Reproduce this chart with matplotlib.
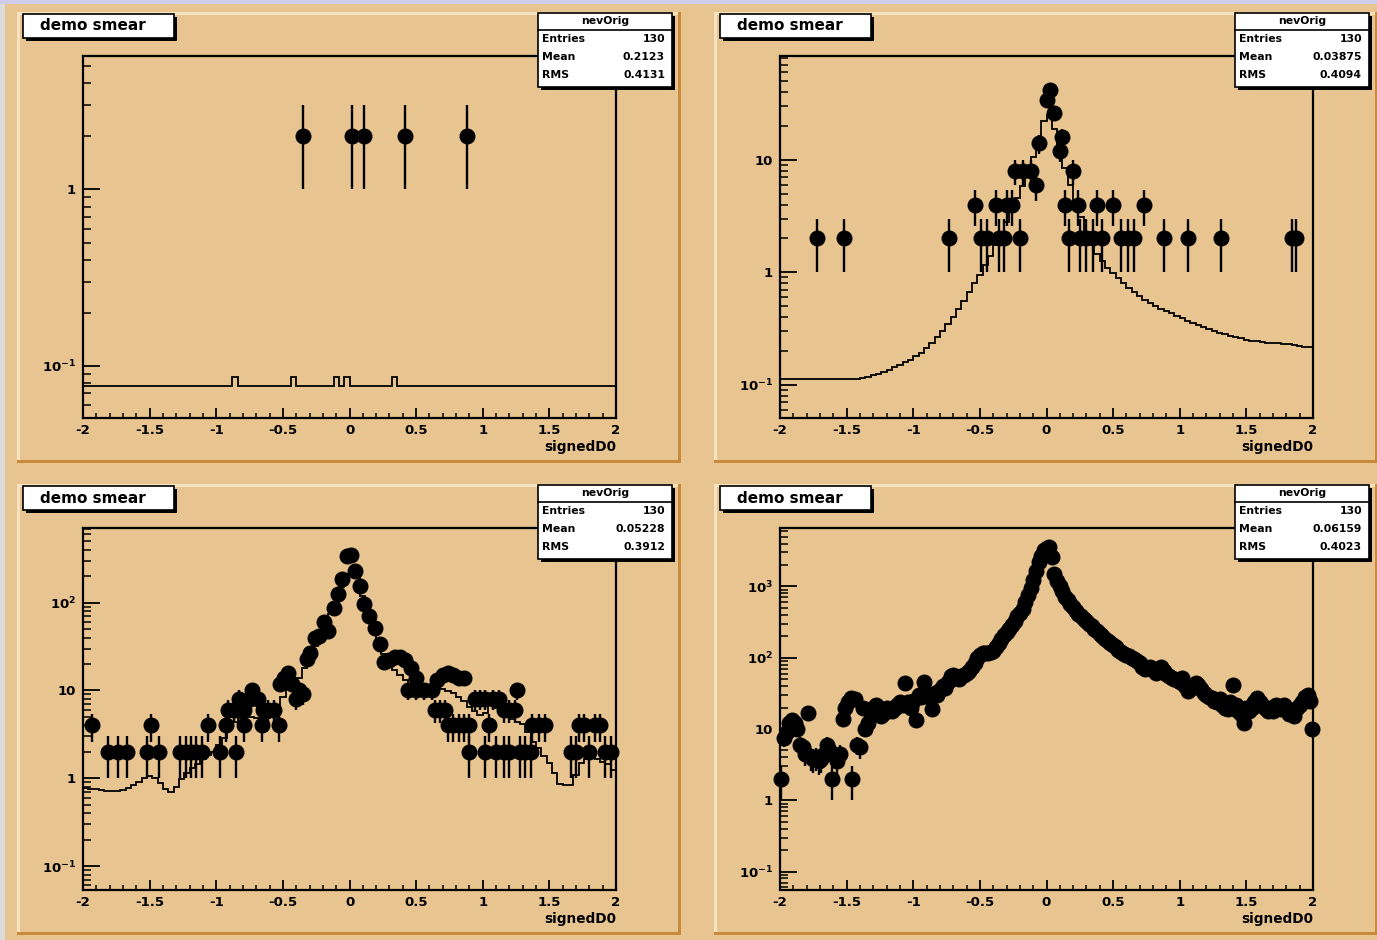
import numpy as np
import matplotlib
matplotlib.use('Agg')
import matplotlib.pyplot as plt
from matplotlib.patches import Rectangle
from matplotlib.ticker import FixedLocator, FixedFormatter, MultipleLocator, LogLocator, NullFormatter

plt.rcParams['font.family'] = ['DejaVu Sans']
plt.rcParams['font.weight'] = 'bold'
plt.rcParams['mathtext.fontset'] = 'dejavusans'
plt.rcParams['mathtext.default'] = 'bf'

titles = ['demo smear'] * 4
stat_name = 'nevOrig'
entries = [130, 130, 130, 130]
means = ['0.2123', '0.03875', '0.05228', '0.06159']
rmss = ['0.4131', '0.4094', '0.3912', '0.4023']
ylims = [(0.051, 5.7), (0.051, 84), (0.054, 710), (0.056, 6600)]

# pad 1 (top left)
p1_x = [-0.35, 0.02, 0.11, 0.42, 0.88]
p1_y = [2, 2, 2, 2, 2]
p1_line = [0.077] * 100
for k in [28, 39, 47, 49, 58]:
    p1_line[k] = 0.086

# pad 2 (top right)
p2_x = [-1.72, -1.52, -0.73, -0.54, -0.49, -0.45, -0.38, -0.36, -0.32, -0.30, -0.26,
        -0.24, -0.20, -0.18, -0.12, -0.08, -0.06, 0.00, 0.03, 0.06, 0.10, 0.12, 0.14,
        0.17, 0.20, 0.24, 0.25, 0.30, 0.35, 0.38, 0.42, 0.50, 0.56, 0.61, 0.66, 0.73,
        0.88, 1.06, 1.31, 1.84, 1.87]
p2_y = [2, 2, 2, 4, 2, 2, 4, 2, 2, 4, 4,
        8, 2, 8, 8, 6, 14, 34, 42, 26, 12, 16, 4,
        2, 8, 4, 2, 2, 2, 4, 2, 4, 2, 2, 2, 4,
        2, 2, 2, 2, 2]
p2_line = [0.112, 0.112, 0.112, 0.112, 0.112, 0.112, 0.112, 0.112, 0.112, 0.112,
           0.112, 0.112, 0.112, 0.112, 0.113, 0.115, 0.118, 0.121, 0.125, 0.130,
           0.136, 0.143, 0.150, 0.158, 0.167, 0.178, 0.192, 0.21, 0.235, 0.265,
           0.30, 0.345, 0.40, 0.47, 0.56, 0.67, 0.80, 0.95, 1.15, 1.4,
           1.75, 2.2, 2.8, 3.6, 4.6, 5.8, 7.5, 10.5, 15, 22,
           25, 19, 12, 8.5, 6, 4.3, 3.1, 2.3, 1.8, 1.45,
           1.25, 1.1, 0.98, 0.88, 0.80, 0.73, 0.67, 0.62, 0.57, 0.53,
           0.50, 0.47, 0.45, 0.43, 0.41, 0.39, 0.37, 0.355, 0.34, 0.325,
           0.31, 0.30, 0.29, 0.28, 0.272, 0.265, 0.258, 0.252, 0.247, 0.243,
           0.24, 0.237, 0.235, 0.233, 0.23, 0.228, 0.225, 0.222, 0.218, 0.215]

# pad 3 (bottom left)
p3_x = [-1.93, -1.81, -1.74, -1.67, -1.52, -1.49, -1.43, -1.27, -1.23, -1.19, -1.15,
        -1.11, -1.06, -0.97, -0.93, -0.91, -0.87, -0.85, -0.83, -0.79, -0.79, -0.75,
        -0.73, -0.69, -0.66, -0.65, -0.61, -0.57, -0.53, -0.52, -0.49, -0.46, -0.43,
        -0.40, -0.38, -0.35, -0.32, -0.30, -0.26, -0.23, -0.19, -0.16, -0.12, -0.09,
        -0.06, -0.02, 0.01, 0.04, 0.08, 0.11, 0.15, 0.19, 0.23, 0.26, 0.30, 0.34,
        0.38, 0.42, 0.46, 0.50, 0.44, 0.50, 0.56, 0.62, 0.64, 0.68, 0.72, 0.66,
        0.70, 0.74, 0.78, 0.82, 0.86, 0.74, 0.78, 0.82, 0.86, 0.90, 1.05, 1.37,
        1.42, 1.47, 1.72, 1.76, 1.84, 1.88, 0.94, 0.98, 1.02, 1.08, 1.12, 1.16,
        1.20, 1.24, 1.26, 0.90, 1.02, 1.10, 1.16, 1.20, 1.28, 1.32, 1.36, 1.66,
        1.70, 1.80, 1.92, 1.96]
p3_y = [4, 2, 2, 2, 2, 4, 2, 2, 2, 2, 2,
        2, 4, 2, 4, 6, 6, 2, 8, 6, 4, 8,
        10, 8, 4, 6, 6, 6, 4, 12, 14, 16, 12,
        8, 10, 9, 23, 27, 40, 42, 60, 48, 88, 126,
        187, 345, 350, 230, 156, 96, 71, 51, 34, 21, 22, 24,
        24, 22, 18, 14, 10, 10, 10, 10, 6, 6, 6, 13,
        15, 16, 15, 14, 14, 4, 4, 4, 4, 4, 4, 4,
        4, 4, 4, 4, 4, 4, 8, 8, 8, 8, 8, 6,
        6, 6, 10, 2, 2, 2, 2, 2, 2, 2, 2, 2,
        2, 2, 2, 2]
p3_line = [0.78, 0.76, 0.75, 0.73, 0.72, 0.71, 0.72, 0.74, 0.77, 0.83,
           0.90, 1.0, 1.07, 1.0, 0.88, 0.76, 0.70, 0.80, 0.97, 1.15,
           1.3, 1.45, 1.65, 1.85, 2.0, 2.4, 2.9, 3.6, 4.4, 4.8,
           5.0, 5.0, 4.9, 4.9, 4.9, 5.0, 5.5, 8.5, 11, 12.5,
           14, 18, 23, 32, 42, 55, 75, 100, 150, 210,
           230, 190, 120, 80, 55, 38, 26, 20, 17, 15,
           13, 12, 11, 10.7, 10.7, 10.7, 10.7, 10.3, 9.9, 9.4,
           8.4, 7.5, 6.5, 5.8, 5.3, 5.6, 6.9, 6.3, 5.8, 5.2,
           4.7, 4.4, 4.2, 3.4, 2.6, 2.2, 1.8, 1.5, 1.15, 0.85,
           0.84, 0.84, 1.1, 1.5, 1.65, 1.69, 1.65, 1.55, 1.45, 1.25]

# pad 4 (bottom right)
p4_x = [-1.99, -1.97, -1.95, -1.93, -1.91, -1.89, -1.87, -1.85, -1.83, -1.81,
        -1.79, -1.77, -1.75, -1.73, -1.71, -1.69, -1.67, -1.65, -1.63, -1.61,
        -1.59, -1.57, -1.55, -1.53, -1.51, -1.49, -1.47, -1.46, -1.44, -1.42,
        -1.40, -1.38, -1.36, -1.34, -1.32, -1.30, -1.28, -1.26, -1.24, -1.22,
        -1.20, -1.18, -1.16, -1.14, -1.12, -1.10, -1.08, -1.06, -1.04, -1.02,
        -1.00, -0.98, -0.96, -0.94, -0.92, -0.90, -0.88, -0.86, -0.84, -0.82,
        -0.80, -0.78, -0.76, -0.74, -0.72, -0.70, -0.68, -0.66, -0.64, -0.62,
        -0.60, -0.58, -0.56, -0.54, -0.52, -0.50, -0.48, -0.46, -0.44, -0.42,
        -0.40, -0.38, -0.36, -0.34, -0.32, -0.30, -0.28, -0.26, -0.24, -0.22,
        -0.20, -0.18, -0.16, -0.14, -0.12, -0.10, -0.08, -0.06, -0.04, -0.02,
        0.00, 0.02, 0.04, 0.06, 0.08, 0.10, 0.12, 0.14, 0.16, 0.18,
        0.20, 0.22, 0.24, 0.26, 0.28, 0.30, 0.32, 0.34, 0.36, 0.38,
        0.40, 0.42, 0.44, 0.46, 0.48, 0.50, 0.52, 0.54, 0.56, 0.58,
        0.60, 0.62, 0.64, 0.66, 0.68, 0.70, 0.72, 0.74, 0.76, 0.78,
        0.80, 0.82, 0.84, 0.86, 0.88, 0.90, 0.92, 0.94, 0.96, 0.98,
        1.00, 1.02, 1.04, 1.06, 1.08, 1.10, 1.12, 1.14, 1.16, 1.18,
        1.20, 1.22, 1.24, 1.26, 1.28, 1.30, 1.32, 1.34, 1.36, 1.38,
        1.40, 1.42, 1.44, 1.46, 1.48, 1.50, 1.52, 1.54, 1.56, 1.58,
        1.60, 1.62, 1.64, 1.66, 1.68, 1.70, 1.72, 1.74, 1.76, 1.78,
        1.80, 1.82, 1.84, 1.86, 1.88, 1.90, 1.92, 1.94, 1.96, 1.98, 1.99]
p4_y = [2, 7.5, 9, 12, 13.5, 12, 10, 6, 5.5, 4.5,
        16.5, 4, 3.8, 4, 3.6, 3.8, 4.5, 6, 5, 2,
        4.2, 3.6, 4.5, 14, 20, 24, 27, 2, 26, 6,
        5.5, 20, 10, 12, 17, 20, 22, 20, 15, 17,
        20, 19, 18, 20, 22, 24, 22, 44, 24, 20,
        25, 13.5, 30, 28, 46, 30, 28, 19, 32, 30,
        35, 40, 38, 45, 55, 58, 52, 50, 55, 58,
        62, 65, 75, 85, 100, 110, 115, 118, 115, 120,
        125, 140, 160, 185, 210, 230, 250, 290, 330, 380,
        420, 480, 600, 750, 950, 1250, 1650, 2200, 2700, 3200,
        3500, 3600, 2600, 1500, 1200, 1000, 850, 720, 640, 570,
        510, 450, 410, 380, 350, 330, 300, 280, 255, 235,
        215, 200, 185, 170, 160, 150, 140, 130, 120, 112,
        110, 105, 100, 95, 90, 85, 75, 70, 72, 73,
        68, 62, 70, 75, 65, 60, 55, 52, 50, 48,
        45, 52, 40, 34, 36, 40, 44, 42, 36, 32,
        30, 28, 27, 25, 24, 26, 22, 20, 19, 24,
        42, 22, 18, 16, 12, 20, 18, 20, 24, 27,
        24, 22, 20, 18, 20, 18, 22, 20, 19, 22,
        20, 16, 18, 15, 20, 22, 24, 28, 30, 25, 10]

points = [(p1_x, p1_y), (p2_x, p2_y), (p3_x, p3_y), (p4_x, p4_y)]
lines = [p1_line, p2_line, p3_line, None]

# ---- canvas ----
W, H = 1377, 940
tan = '#E8C491'
light = '#F5E3C2'
dark = '#C98A3C'

fig = plt.figure(figsize=(W / 100, H / 100), dpi=100, facecolor=tan)


def rect(x0, y0, x1, y1, **kw):
    # pixel box (top-left origin) -> figure rectangle
    r = Rectangle((x0 / W, 1 - y1 / H), (x1 - x0) / W, (y1 - y0) / H,
                  transform=fig.transFigure, **kw)
    fig.add_artist(r)
    return r


def ftext(x, y, s, **kw):
    fig.text(x / W, 1 - y / H, s, **kw)


rect(0, 0, W, 4, facecolor='#CFCDEB', edgecolor='none', zorder=-3)
rect(0, 4, 5, H, facecolor='#DCDCDC', edgecolor='none', zorder=-3)

offsets = [(0, 0), (697, 0), (0, 472), (697, 472)]
decade_labels = {0.1: r'$10^{-1}$', 1: '1', 10: '10', 100: r'$10^{2}$', 1000: r'$10^{3}$'}
edges = np.linspace(-2, 2, 101)

for i, (dx, dy) in enumerate(offsets):
    # pad with bevelled border
    rect(17 + dx, 12 + dy, 681 + dx, 463 + dy, facecolor=tan, edgecolor='none', zorder=-2)
    rect(17 + dx, 12 + dy, 681 + dx, 15 + dy, facecolor=light, edgecolor='none', zorder=-1)
    rect(17 + dx, 12 + dy, 20 + dx, 463 + dy, facecolor=light, edgecolor='none', zorder=-1)
    rect(17 + dx, 460 + dy, 681 + dx, 463 + dy, facecolor=dark, edgecolor='none', zorder=-1)
    rect(678 + dx, 12 + dy, 681 + dx, 463 + dy, facecolor=dark, edgecolor='none', zorder=-1)

    ax = fig.add_axes([(83 + dx) / W, 1 - (417.5 + dy) / H, 533 / W, 361.5 / H])
    ax.patch.set_alpha(0)
    ax.set_yscale('log')
    ax.set_xlim(-2, 2)
    ax.set_ylim(*ylims[i])

    if lines[i] is not None:
        ax.stairs(lines[i], edges, color='k', lw=1.3, baseline=None, zorder=2)
    x, y = points[i]
    x = np.array(x, dtype=float)
    y = np.array(y, dtype=float)
    # Poisson-style bars as ROOT draws them (sqrt of unweighted count)
    ax.errorbar(x, y, yerr=np.sqrt(y / 2), fmt='o', ms=10.5, mfc='k', mec='k',
                ecolor='k', elinewidth=1.7, capsize=0, zorder=3, clip_on=False)

    for sp in ax.spines.values():
        sp.set_linewidth(1.6)

    ax.xaxis.set_major_locator(FixedLocator([-2, -1.5, -1, -0.5, 0, 0.5, 1, 1.5, 2]))
    ax.xaxis.set_major_formatter(FixedFormatter(['-2', '-1.5', '-1', '-0.5', '0', '0.5', '1', '1.5', '2']))
    ax.xaxis.set_minor_locator(MultipleLocator(0.1))
    lo, hi = ylims[i]
    decs = [d for d in [0.1, 1, 10, 100, 1000] if lo <= d <= hi]
    ax.yaxis.set_major_locator(FixedLocator(decs))
    ax.yaxis.set_major_formatter(FixedFormatter([decade_labels[d] for d in decs]))
    ax.yaxis.set_minor_locator(LogLocator(base=10, subs=range(2, 10), numticks=20))
    ax.yaxis.set_minor_formatter(NullFormatter())
    ax.tick_params(axis='x', which='major', direction='in', length=7.5, width=1.3,
                   labelsize=9.5, pad=5, top=False)
    ax.tick_params(axis='x', which='minor', direction='in', length=3.5, width=1.1, top=False)
    ax.tick_params(axis='y', which='major', direction='in', length=12, width=1.3,
                   labelsize=9.5, pad=5, right=False)
    ax.tick_params(axis='y', which='minor', direction='in', length=6, width=1.1, right=False)

    ftext(616 + dx, 446.5 + dy, 'signedD0', fontsize=9.8, ha='right', va='center')

    # title box
    rect(26 + dx, 17 + dy, 177 + dx, 41 + dy, facecolor='k', edgecolor='none', zorder=4)
    rect(23 + dx, 14 + dy, 174 + dx, 38 + dy, facecolor='white', edgecolor='k', lw=1.2, zorder=5)
    ftext(40 + dx, 26 + dy, titles[i], fontsize=11, ha='left', va='center', zorder=6)

    # stats box
    rect(541 + dx, 16 + dy, 675 + dx, 90 + dy, facecolor='k', edgecolor='none', zorder=4)
    rect(538 + dx, 13 + dy, 672 + dx, 87 + dy, facecolor='white', edgecolor='k', lw=1.2, zorder=5)
    fig.add_artist(plt.Line2D([(538 + dx) / W, (672 + dx) / W], [1 - (30 + dy) / H] * 2,
                              color='k', lw=1.2, transform=fig.transFigure, zorder=6))
    ftext(605 + dx, 21.5 + dy, stat_name, fontsize=7.8, ha='center', va='center', zorder=6)
    rows = [('Entries', str(entries[i])), ('Mean', means[i]), ('RMS', rmss[i])]
    for j, (lab, val) in enumerate(rows):
        ftext(542 + dx, 39.5 + 18 * j + dy, lab, fontsize=7.8, ha='left', va='center', zorder=6)
        ftext(665 + dx, 39.5 + 18 * j + dy, val, fontsize=7.8, ha='right', va='center', zorder=6)

fig.savefig('out.png', dpi=100, facecolor=tan)
